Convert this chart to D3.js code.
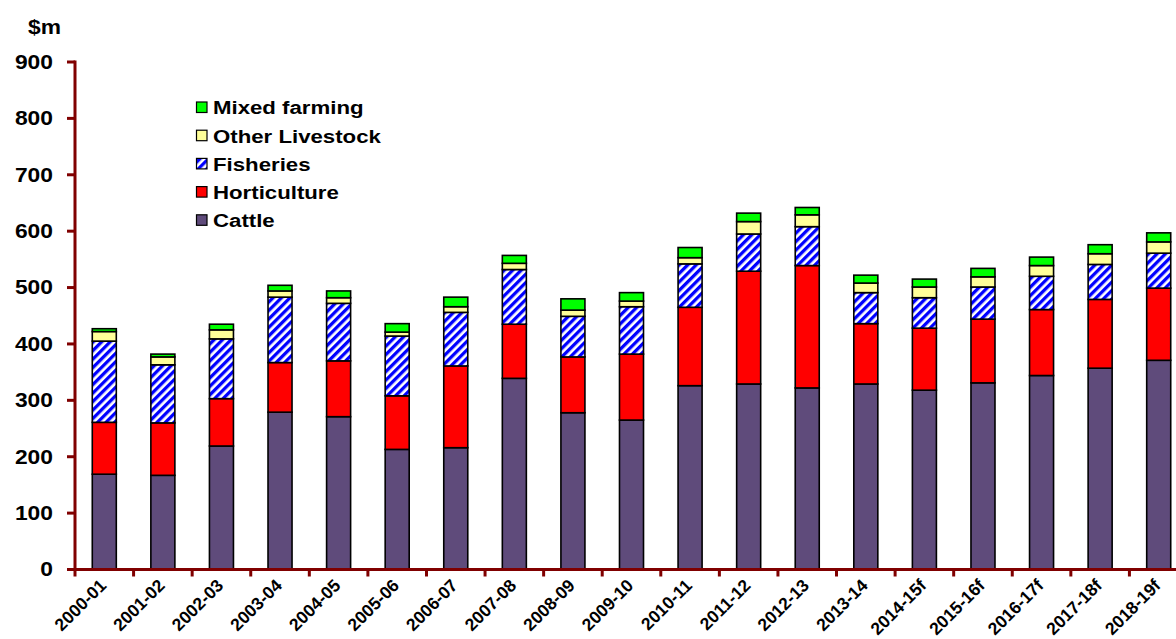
<!DOCTYPE html>
<html>
<head>
<meta charset="utf-8">
<script src="https://cdn.jsdelivr.net/npm/d3@7"></script>
<style>
  html, body { margin: 0; padding: 0; background: #fff; }
  svg { display: block; }
  text { font-family: "Liberation Sans", Arial, sans-serif; font-weight: bold; fill: #000; }
</style>
</head>
<body>
<svg id="chart" width="1176" height="639"></svg>
<script>
// Financial years (f = forecast)
const categories = ["2000-01","2001-02","2002-03","2003-04","2004-05","2005-06","2006-07",
  "2007-08","2008-09","2009-10","2010-11","2011-12","2012-13","2013-14",
  "2014-15f","2015-16f","2016-17f","2017-18f","2018-19f"];

// Value of production by industry, $m
const cattle       = [169,167,219,279,271,213,216,339,278,265,326,329,322,329,318,331,344,357,371];
const horticulture = [ 92, 93, 84, 88, 99, 95,145, 96, 99,117,139,200,217,107,110,113,117,122,128];
const fisheries    = [144,103,106,116,102,106, 95, 97, 72, 84, 77, 66, 69, 55, 54, 57, 59, 62, 62];
const otherLivestock=[ 17, 14, 16, 11, 10,  7, 10, 11, 11, 10, 11, 22, 21, 17, 19, 18, 19, 19, 20];
const mixedFarming = [  5,  5, 10, 10, 12, 15, 17, 14, 20, 15, 18, 15, 13, 14, 14, 15, 15, 16, 16];

const yTicks = [0,100,200,300,400,500,600,700,800,900];

const seriesNames = ["Cattle","Horticulture","Fisheries","Other Livestock","Mixed farming"];
const seriesValues = [cattle, horticulture, fisheries, otherLivestock, mixedFarming];
const seriesFill = ["#5f4b7b","#ff0000","url(#stripes)","#ffff99","#00ff00"];

const svg = d3.select("#chart");
const axisColor = "#800000";
const stretch = 1.17; // wide lettering

// Hatched fill for fisheries
const defs = svg.append("defs");
const pat = defs.append("pattern")
  .attr("id","stripes")
  .attr("patternUnits","userSpaceOnUse")
  .attr("width",6).attr("height",6)
  .attr("patternTransform","rotate(45)");
pat.append("rect").attr("width",6).attr("height",6).attr("fill","#fff");
pat.append("rect").attr("width",3.3).attr("height",6).attr("fill","#0000ff");

const x0 = 75, x1 = 1188;
const x = d3.scaleBand().domain(categories).range([x0, x1])
  .paddingInner(0.59).paddingOuter(0.295);
const xEdge = d3.scaleBand().domain(categories).range([x0, x1]).padding(0);
const y = d3.scaleLinear().domain([0, 900]).range([569.5, 62]);

// Stack the series
const rows = categories.map((c, i) => {
  const r = { cat: c };
  seriesNames.forEach((s, k) => r[s] = seriesValues[k][i]);
  return r;
});
const stacked = d3.stack().keys(seriesNames)(rows);

const layers = svg.append("g").selectAll("g").data(stacked).join("g")
  .attr("fill", (d, k) => seriesFill[k]);
layers.selectAll("rect").data(d => d).join("rect")
  .attr("x", d => x(d.data.cat))
  .attr("width", x.bandwidth())
  .attr("y", d => y(d[1]))
  .attr("height", d => y(d[0]) - y(d[1]))
  .attr("stroke", "#000")
  .attr("stroke-width", 1.6);

// Y axis
const yAxis = svg.append("g");
yAxis.append("line").attr("x1", x0).attr("x2", x0)
  .attr("y1", y(900) - 1.5).attr("y2", y(0))
  .attr("stroke", axisColor).attr("stroke-width", 3);
yAxis.selectAll("line.tick").data(yTicks).join("line").attr("class","tick")
  .attr("x1", x0 - 8).attr("x2", x0)
  .attr("y1", d => y(d)).attr("y2", d => y(d))
  .attr("stroke", axisColor).attr("stroke-width", 3);
yAxis.selectAll("g.lab").data(yTicks).join("g").attr("class","lab")
  .attr("transform", d => `translate(53,${y(d)}) scale(${stretch},1)`)
  .append("text")
  .attr("text-anchor","end").attr("dy","0.35em")
  .attr("font-size", 19.5)
  .text(d => d);

svg.append("g").attr("transform",`translate(28,34) scale(${stretch},1)`)
  .append("text").attr("font-size", 19.5).text("$m");

// X axis
const xAxis = svg.append("g");
xAxis.append("line").attr("x1", x0 - 1.5).attr("x2", 1176)
  .attr("y1", y(0)).attr("y2", y(0))
  .attr("stroke", axisColor).attr("stroke-width", 3);
const edges = categories.map(c => xEdge(c)).concat([x1]);
xAxis.selectAll("line.tick").data(edges).join("line").attr("class","tick")
  .attr("x1", d => d).attr("x2", d => d)
  .attr("y1", y(0)).attr("y2", y(0) + 7)
  .attr("stroke", axisColor).attr("stroke-width", 3);
xAxis.selectAll("text").data(categories).join("text")
  .attr("transform", c => `translate(${x(c) + x.bandwidth() / 2 + 3},${y(0) + 17}) rotate(-45)`)
  .attr("text-anchor","end")
  .attr("font-size", 17.5)
  .text(c => c);

// Legend (top entry = top of stack)
const legendOrder = seriesNames.map((s, k) => k).reverse();
const legend = svg.append("g");
legendOrder.forEach((k, i) => {
  const cy = 107.5 + i * 28.2;
  legend.append("rect")
    .attr("x", 196.5).attr("y", cy - 5.5)
    .attr("width", 10.5).attr("height", 10.5)
    .attr("fill", seriesFill[k])
    .attr("stroke", "#000").attr("stroke-width", 1.2);
  legend.append("g").attr("transform", `translate(213,${cy}) scale(${stretch},1)`)
    .append("text").attr("dy","0.36em").attr("font-size", 19)
    .text(seriesNames[k]);
});
</script>
</body>
</html>
